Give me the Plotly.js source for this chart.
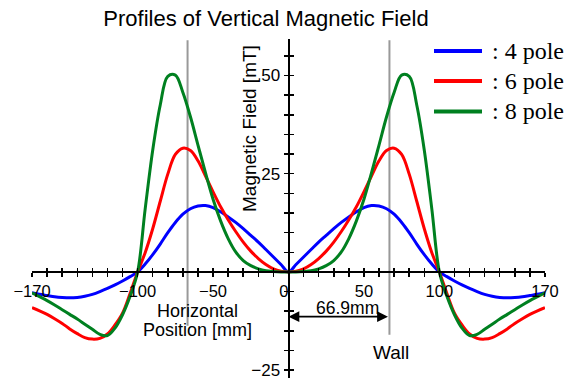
<!DOCTYPE html>
<html>
<head>
<meta charset="utf-8">
<script src="https://cdn.plot.ly/plotly-3.0.1.min.js"></script>
<style>html,body{margin:0;padding:0;background:#fff;}#chart{width:569px;height:381px;}</style>
</head>
<body>
<div id="chart"></div>
<script>
// Horizontal position [mm]
const positions = [-170,-165,-160,-155,-150,-145,-140,-135,-130,-125,-120,-115,-110,-105,-100,-95,-90,-85,-80,-75,-70,-65,-60,-55,-50,-45,-40,-35,-30,-25,-20,-15,-10,-5,
  0,5,10,15,20,25,30,35,40,45,50,55,60,65,70,75,80,85,90,95,100,105,110,115,120,125,130,135,140,145,150,155,160,165,170];

// Vertical magnetic field [mT]
const field4pole = [-5.3,-5.7,-6.0,-6.3,-6.5,-6.6,-6.5,-6.2,-5.7,-5.0,-4.2,-3.3,-2.3,-1.2,0,2.0,4.4,7.1,10.0,12.6,14.7,16.1,16.8,16.9,16.4,15.3,14.0,12.6,11.0,9.3,7.6,5.7,3.8,1.9,
  0,1.9,3.8,5.7,7.6,9.3,11.0,12.6,14.0,15.3,16.4,16.9,16.8,16.1,14.7,12.6,10.0,7.1,4.4,2.0,0,-1.2,-2.3,-3.3,-4.2,-5.0,-5.7,-6.2,-6.5,-6.6,-6.5,-6.3,-6.0,-5.7,-5.3];

const field6pole = [-9.1,-9.9,-10.8,-11.9,-13.1,-14.5,-15.7,-16.7,-17.1,-16.9,-15.8,-13.5,-10.5,-5.5,0,4.9,11.0,18.0,24.9,29.9,31.5,30.9,28.3,24.4,20.4,16.6,13.3,10.3,7.6,5.3,3.4,1.9,0.8,0.2,
  0,0.2,0.8,1.9,3.4,5.3,7.6,10.3,13.3,16.6,20.4,24.4,28.3,30.9,31.5,29.9,24.9,18.0,11.0,4.9,0,-5.5,-10.5,-13.5,-15.8,-16.9,-17.1,-16.7,-15.7,-14.5,-13.1,-11.9,-10.8,-9.9,-9.1];

const field8pole = [-5.3,-6.3,-7.3,-8.4,-9.6,-10.8,-12.0,-13.3,-14.6,-15.9,-16.2,-14.3,-10.9,-6.2,0,16.0,31.0,42.5,49.8,50.1,45.7,39.5,32.3,25.2,18.5,13.0,8.5,5.1,2.9,1.6,0.8,0.3,0.1,0,
  0,0,0.1,0.3,0.8,1.6,2.9,5.1,8.5,13.0,18.5,25.2,32.3,39.5,45.7,50.1,49.8,42.5,31.0,16.0,0,-6.2,-10.9,-14.3,-16.2,-15.9,-14.6,-13.3,-12.0,-10.8,-9.6,-8.4,-7.3,-6.3,-5.3];

const seriesNames = [': 4 pole', ': 6 pole', ': 8 pole'];
const seriesColors = ['#0000ff', '#ff0000', '#008020'];

// Wall position [mm]
const wallPosition = 66.9;
const wallLabel = 'Wall';
const wallDistanceLabel = '66.9mm';

// Axis ticks
const xTickVals = [-170,-160,-150,-140,-130,-120,-110,-100,-90,-80,-70,-60,-50,-40,-30,-20,-10,0,10,20,30,40,50,60,70,80,90,100,110,120,130,140,150,160,170];
const xLabelled = {'-170':'\u2212170','-100':'\u2212100','-50':'\u221250','0':'0\u00a0\u00a0','50':'50','100':'100','170':'170'};
const yTickVals = [-25,-20,-15,-10,-5,0,5,10,15,20,25,30,35,40,45,50,55];
const yLabelled = {'-25':'\u221225','25':'25','50':'50'};

const xTickText = xTickVals.map(v => xLabelled[String(v)] || '');
const yTickText = yTickVals.map(v => yLabelled[String(v)] || '');

const xRange = [-170, 170];
const yRange = [-27, 59.3];
const xAxisPos = (0 - yRange[0]) / (yRange[1] - yRange[0]);
const yAxisPos = (0 - xRange[0]) / (xRange[1] - xRange[0]);

const sans = 'Liberation Sans, Arial, sans-serif';
const serif = 'Liberation Serif, Times New Roman, serif';

const W = 569, H = 381;
const M = {l: 32, r: 24, t: 39, b: 3};
const pw = W - M.l - M.r, ph = H - M.t - M.b;
const paperX = px => (px - M.l) / pw;
const paperY = py => (H - M.b - py) / ph;

const fields = [field4pole, field6pole, field8pole];
const traces = fields.map((f, i) => ({
  type: 'scatter', mode: 'lines', x: positions, y: f, name: seriesNames[i],
  line: {color: seriesColors[i], width: 3, shape: 'spline', smoothing: 1},
  hoverinfo: 'skip', cliponaxis: false, showlegend: false
}));
traces.push({type: 'scatter', mode: 'lines', x: [], y: [], xaxis: 'x2', yaxis: 'y2', showlegend: false, hoverinfo: 'skip'});

// Legend (drawn as shapes + texts, rows spaced like the reference)
const legendRowsY = [51, 81, 111.5];
const legendShapes = seriesNames.map((n, i) => ({
  type: 'line', xref: 'paper', yref: 'paper', x0: paperX(434), x1: paperX(482), y0: paperY(legendRowsY[i]), y1: paperY(legendRowsY[i]),
  line: {color: seriesColors[i], width: 4}
}));
const legendTexts = seriesNames.map((n, i) => ({
  text: n, xref: 'paper', yref: 'paper', x: paperX(490), y: paperY(legendRowsY[i]), xanchor: 'left', yanchor: 'middle',
  showarrow: false, font: {family: serif, size: 24, color: '#000'}
}));

const commonAxis = {showgrid: false, zeroline: false, fixedrange: true, tickcolor: '#000', tickwidth: 1.5, ticklen: 4, tickmode: 'array'};

const layout = {
  width: W, height: H,
  margin: {l: M.l, r: M.r, t: M.t, b: M.b, pad: 0, autoexpand: false},
  paper_bgcolor: '#fff', plot_bgcolor: '#fff',
  showlegend: false,
  title: {text: 'Profiles of Vertical Magnetic Field', font: {family: sans, size: 22, color: '#000'},
    x: 266/569, xref: 'container', xanchor: 'center', y: 1 - 18/381, yref: 'container', yanchor: 'middle'},
  xaxis: Object.assign({}, commonAxis, {range: xRange, anchor: 'free', position: xAxisPos, side: 'bottom',
    showline: true, linecolor: '#000', linewidth: 2, ticks: 'outside', tickvals: xTickVals, ticktext: xTickText,
    tickfont: {family: sans, size: 16.5, color: '#000'}}),
  xaxis2: Object.assign({}, commonAxis, {range: xRange, overlaying: 'x', anchor: 'free', position: xAxisPos, side: 'bottom',
    showline: false, ticks: 'inside', tickvals: xTickVals, showticklabels: false}),
  yaxis: Object.assign({}, commonAxis, {range: yRange, anchor: 'free', position: yAxisPos, side: 'left',
    showline: true, linecolor: '#000', linewidth: 2.5, ticks: 'outside', tickvals: yTickVals, ticktext: yTickText,
    tickfont: {family: sans, size: 17, color: '#000'}}),
  yaxis2: Object.assign({}, commonAxis, {range: yRange, overlaying: 'y', anchor: 'free', position: yAxisPos, side: 'left',
    showline: false, ticks: 'inside', tickvals: yTickVals, showticklabels: false}),
  shapes: [
    {type: 'line', xref: 'x', yref: 'y', x0: -wallPosition, x1: -wallPosition, y0: 59, y1: -13.7, line: {color: '#999', width: 2}, layer: 'below'},
    {type: 'line', xref: 'x', yref: 'y', x0: wallPosition, x1: wallPosition, y0: 59, y1: -16, line: {color: '#999', width: 2}, layer: 'below'}
  ].concat(legendShapes),
  annotations: [
    {text: 'Magnetic Field [mT]', x: -25.5, y: 36.4, xref: 'x', yref: 'y', textangle: -90, showarrow: false, font: {family: sans, size: 19, color: '#000'}},
    {text: 'Horizontal', x: -60.6, y: -9.9, xref: 'x', yref: 'y', showarrow: false, font: {family: sans, size: 18, color: '#000'}},
    {text: 'Position [mm]', x: -60.6, y: -14.9, xref: 'x', yref: 'y', showarrow: false, font: {family: sans, size: 18, color: '#000'}},
    {text: wallDistanceLabel, x: 38.8, y: -9.3, xref: 'x', yref: 'y', showarrow: false, font: {family: sans, size: 17.5, color: '#000'}},
    {text: wallLabel, x: 67.9, y: -20.4, xref: 'x', yref: 'y', showarrow: false, font: {family: sans, size: 19, color: '#000'}},
    {text: '', x: 0, y: -11.4, ax: wallPosition, ay: -11.4, xref: 'x', yref: 'y', axref: 'x', ayref: 'y',
      showarrow: true, arrowside: 'end+start', arrowhead: 2, arrowsize: 1.2, arrowwidth: 1.8, arrowcolor: '#000'}
  ].concat(legendTexts)
};

Plotly.newPlot('chart', traces, layout, {staticPlot: true, displayModeBar: false});
</script>
</body>
</html>
